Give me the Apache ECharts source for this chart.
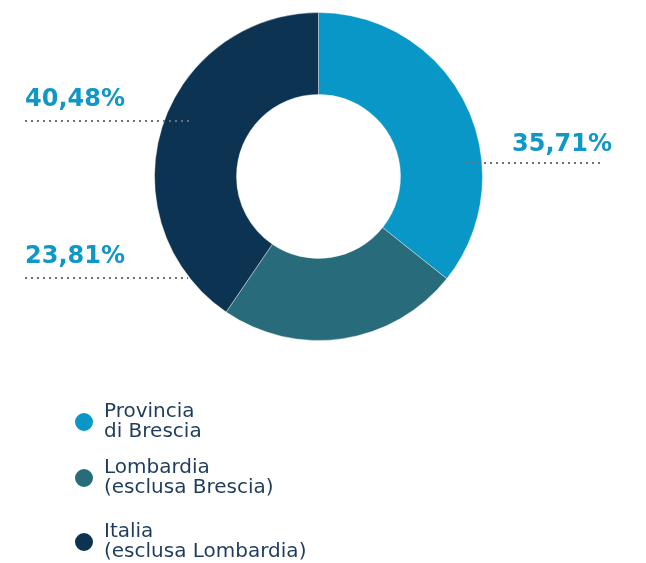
<!DOCTYPE html>
<html>
<head>
<meta charset="utf-8">
<script src="https://cdn.jsdelivr.net/npm/echarts@6/dist/echarts.min.js"></script>
<style>
  html, body { margin: 0; padding: 0; background: #ffffff; }
  #chart { width: 646px; height: 563px; }
</style>
</head>
<body>
<div id="chart"></div>
<script>
// Categories, their two-line legend captions, shares (%) and slice colours
const categories = ['Provincia di Brescia', 'Lombardia (esclusa Brescia)', 'Italia (esclusa Lombardia)'];
const legendLabels = ['Provincia\ndi Brescia', 'Lombardia\n(esclusa Brescia)', 'Italia\n(esclusa Lombardia)'];
const shares = [35.71, 23.81, 40.48];
const colors = ['#0897c6', '#286b7b', '#0d3352'];

const chart = echarts.init(document.getElementById('chart'), null, { renderer: 'canvas' });

const FONT = 'DejaVu Sans';
const CENTER = [318.5, 176.5];
const RADIUS = [82, 164];

// Callout placement per slice: which side the text sits on, where the
// dotted leader runs (y) and its horizontal extent.
const callouts = [
  { align: 'right', textX: 612, textY: 145, lineY: 163, x0: 466, x1: 604 },
  { align: 'left',  textX: 25,  textY: 100, lineY: 278, x0: 25,  x1: 188 },
  { align: 'left',  textX: 25,  textY: 100, lineY: 121, x0: 25,  x1: 192 }
];
callouts[1].textY = 257;

const pctText = v => v.toFixed(2).replace('.', ',') + '%';

const legendTops = [397, 453, 517];

const sliceData = categories.map((name, i) => ({
  name,
  value: shares[i],
  itemStyle: { color: colors[i] }
}));

chart.setOption({
  animation: false,
  backgroundColor: '#ffffff',
  legend: categories.map((name, i) => ({
    data: [name],
    left: 68,
    top: legendTops[i],
    orient: 'vertical',
    icon: 'circle',
    itemWidth: 20,
    itemHeight: 20,
    itemGap: 0,
    selectedMode: false,
    formatter: () => legendLabels[i],
    textStyle: {
      fontFamily: FONT,
      fontSize: 20,
      lineHeight: 20,
      color: '#1f3c5c',
      padding: [0, 0, 0, 5]
    }
  })),
  series: [
    // the ring itself
    {
      type: 'pie',
      z: 2,
      center: CENTER,
      radius: RADIUS,
      startAngle: 90,
      clockwise: true,
      silent: true,
      emphasis: { disabled: true },
      itemStyle: { borderColor: '#ffffff', borderWidth: 0.4 },
      label: { show: false },
      labelLine: { show: false },
      data: sliceData
    },
    // same slices, transparent, carrying the percentage callouts above the ring
    {
      type: 'pie',
      z: 3,
      center: CENTER,
      radius: RADIUS,
      startAngle: 90,
      clockwise: true,
      silent: true,
      avoidLabelOverlap: false,
      emphasis: { disabled: true },
      itemStyle: { color: 'rgba(0,0,0,0)' },
      data: categories.map((name, i) => ({
        name,
        value: shares[i],
        itemStyle: { color: 'rgba(0,0,0,0)' }
      })),
      label: {
        show: true,
        position: 'outside',
        formatter: p => pctText(p.value),
        fontFamily: FONT,
        fontWeight: 'bold',
        fontSize: 24,
        color: '#0e97c7'
      },
      labelLine: {
        show: true,
        lineStyle: { color: '#707070', width: 2, type: [2, 4] }
      },
      labelLayout: params => {
        const c = callouts[params.dataIndex];
        const xm = (c.x0 + c.x1) / 2;
        return {
          x: c.textX,
          y: c.textY,
          align: c.align,
          verticalAlign: 'middle',
          labelLinePoints: [[c.x0, c.lineY], [xm, c.lineY], [c.x1, c.lineY]]
        };
      }
    }
  ]
});
</script>
</body>
</html>
